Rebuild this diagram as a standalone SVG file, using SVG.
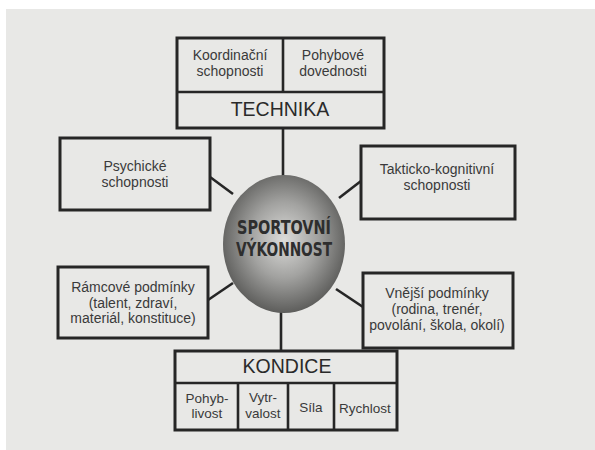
<svg xmlns="http://www.w3.org/2000/svg" width="595" height="450" viewBox="0 0 595 450">
<defs>
<radialGradient id="egg" cx="0.5" cy="0.47" r="0.55">
<stop offset="0" stop-color="#dcdcda"/>
<stop offset="0.5" stop-color="#a2a2a0"/>
<stop offset="1" stop-color="#585856"/>
</radialGradient>
<style>
.box{fill:none;stroke:#262626;stroke-width:3}
.ln{fill:none;stroke:#262626;stroke-width:2.6}
.t{font-family:"Liberation Sans",Arial,sans-serif;font-size:14px;fill:#3a3a3a;text-anchor:middle}
.s{font-size:13.5px}
.h{font-family:"Liberation Sans",Arial,sans-serif;font-size:19.5px;fill:#2a2a2a;text-anchor:middle}
.c{font-family:"DejaVu Sans Condensed","DejaVu Sans",sans-serif;font-weight:bold;font-size:20px;fill:#2e2e2e;text-anchor:middle}
</style>
</defs>
<rect width="595" height="450" fill="#ffffff"/>
<rect x="6" y="9" width="589" height="441" fill="#e8e8e6"/>
<g id="connectors">
<line class="ln" x1="283" y1="128" x2="283" y2="176"/>
<line class="ln" x1="210" y1="177" x2="233" y2="194"/>
<line class="ln" x1="361" y1="181" x2="339" y2="198"/>
<line class="ln" x1="208" y1="300" x2="233" y2="283"/>
<line class="ln" x1="363" y1="307" x2="336" y2="289"/>
<line class="ln" x1="281" y1="312" x2="281" y2="351"/>
</g>
<g id="technika">
<rect class="box" x="177" y="38" width="207" height="90"/>
<line class="ln" x1="177" y1="92" x2="384" y2="92"/>
<line class="ln" x1="283" y1="38" x2="283" y2="92"/>
<text class="t" x="230" y="60">Koordinační</text>
<text class="t" x="230" y="76">schopnosti</text>
<text class="t" x="333" y="60">Pohybové</text>
<text class="t" x="333" y="76">dovednosti</text>
<text class="h" x="280" y="116">TECHNIKA</text>
</g>
<g id="psychicke">
<rect class="box" x="60" y="138" width="150" height="72"/>
<text class="t" x="135" y="171">Psychické</text>
<text class="t" x="135" y="187">schopnosti</text>
</g>
<g id="takticke">
<rect class="box" x="361" y="146" width="154" height="73"/>
<text class="t" x="437" y="174">Takticko-kognitivní</text>
<text class="t" x="437" y="190">schopnosti</text>
</g>
<g id="vykonnost">
<ellipse cx="284" cy="244" rx="61" ry="69" fill="url(#egg)"/>
<text class="c" x="284" y="234" textLength="94" lengthAdjust="spacingAndGlyphs">SPORTOVNÍ</text>
<text class="c" x="284" y="256" textLength="96" lengthAdjust="spacingAndGlyphs">VÝKONNOST</text>
</g>
<g id="ramcove">
<rect class="box" x="58" y="267" width="150" height="71"/>
<text class="t" x="133" y="292">Rámcové podmínky</text>
<text class="t" x="133" y="308">(talent, zdraví,</text>
<text class="t" x="133" y="323">materiál, konstituce)</text>
</g>
<g id="vnejsi">
<rect class="box" x="363" y="273" width="150" height="75"/>
<text class="t" x="437" y="298">Vnější podmínky</text>
<text class="t" x="437" y="314">(rodina, trenér,</text>
<text class="t" x="437" y="330">povolání, škola, okolí)</text>
</g>
<g id="kondice">
<rect class="box" x="175" y="351" width="222" height="79"/>
<line class="ln" x1="175" y1="383" x2="397" y2="383"/>
<line class="ln" x1="238" y1="383" x2="238" y2="430"/>
<line class="ln" x1="288" y1="383" x2="288" y2="430"/>
<line class="ln" x1="334" y1="383" x2="334" y2="430"/>
<text class="h" x="287" y="373">KONDICE</text>
<text class="t s" x="207" y="403">Pohyb-</text>
<text class="t s" x="207" y="418">livost</text>
<text class="t s" x="263" y="402">Vytr-</text>
<text class="t s" x="263" y="418">valost</text>
<text class="t s" x="311" y="412">Síla</text>
<text class="t s" x="365" y="413">Rychlost</text>
</g>
</svg>
